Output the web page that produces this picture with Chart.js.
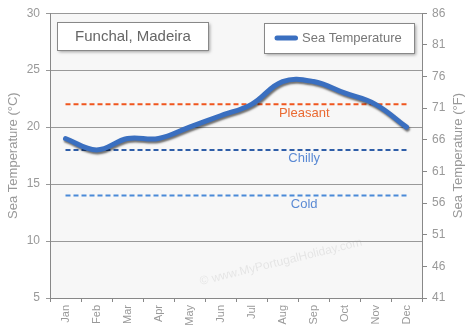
<!DOCTYPE html>
<html>
<head>
<meta charset="utf-8">
<script src="https://cdn.jsdelivr.net/npm/chart.js@4/dist/chart.umd.min.js"></script>
<style>
html,body{margin:0;padding:0;background:#fff;}
#wrap{width:474px;height:328px;position:relative;}
</style>
</head>
<body>
<div id="wrap"><canvas id="c" width="474" height="328"></canvas></div>
<script>
const months = ["Jan","Feb","Mar","Apr","May","Jun","Jul","Aug","Sep","Oct","Nov","Dec"];
const seaTemp = [19,18,19,19,20,21,22,24,24,23,22,20];
const thresholds = [
  {name:"Pleasant", value:22, line:"#f0561e", text:"#ea6a32"},
  {name:"Chilly",   value:18, line:"#2f5ea8", text:"#5b8ad4"},
  {name:"Cold",     value:14, line:"#4a8ad8", text:"#5b8ad4"}
];
const celsiusTicks = [5,10,15,20,25,30];
const fahrenheitTicks = [41,46,51,56,61,66,71,76,81,86];
const chartTitle = "Funchal, Madeira";
const seriesName = "Sea Temperature";
const leftTitle = "Sea Temperature (°C)";
const rightTitle = "Sea Temperature (°F)";
const watermark = "© www.MyPortugalHoliday.com";

const FONT = "'Liberation Sans', Arial, sans-serif";
const MAIN_COLOR = "#3a6fc0";

const datasets = [{
  label: seriesName,
  data: seaTemp,
  borderColor: MAIN_COLOR,
  borderWidth: 5,
  tension: 0.4,
  pointRadius: 0,
  borderCapStyle: 'round',
  borderJoinStyle: 'round',
  yAxisID: 'y',
  isMain: true
}];
thresholds.forEach(t => {
  datasets.push({
    label: t.name,
    data: months.map(() => t.value),
    borderColor: t.line,
    borderWidth: 2,
    borderDash: [5,3],
    pointRadius: 0,
    tension: 0,
    yAxisID: 'y'
  });
});

function box(ctx, x, y, w, h) {
  ctx.save();
  ctx.shadowColor = 'rgba(0,0,0,0.35)';
  ctx.shadowOffsetX = 2;
  ctx.shadowOffsetY = 2;
  ctx.shadowBlur = 3;
  ctx.fillStyle = '#fff';
  ctx.fillRect(x, y, w, h);
  ctx.restore();
  ctx.save();
  ctx.strokeStyle = '#888';
  ctx.lineWidth = 1;
  ctx.strokeRect(x + 0.5, y + 0.5, w, h);
  ctx.restore();
}

const deco = {
  id: 'deco',
  beforeDraw(chart) {
    const {ctx, chartArea: a} = chart;
    ctx.save();
    ctx.fillStyle = '#f7f7f7';
    ctx.fillRect(a.left, a.top, a.right - a.left, a.bottom - a.top);
    // watermark
    ctx.translate(281, 262);
    ctx.rotate(-0.24);
    ctx.font = "12px " + FONT;
    ctx.fillStyle = 'rgba(0,0,0,0.08)';
    ctx.textAlign = 'center';
    ctx.textBaseline = 'middle';
    ctx.fillText(watermark, 0, 0);
    ctx.restore();
  },
  beforeDatasetDraw(chart, args) {
    const ds = chart.data.datasets[args.index];
    if (ds.isMain) {
      const ctx = chart.ctx;
      ctx.save();
      ctx.shadowColor = 'rgba(0,0,0,0.55)';
      ctx.shadowOffsetX = 1;
      ctx.shadowOffsetY = 2;
      ctx.shadowBlur = 2;
    }
  },
  afterDatasetDraw(chart, args) {
    const ds = chart.data.datasets[args.index];
    if (ds.isMain) chart.ctx.restore();
  },
  afterDraw(chart) {
    const {ctx} = chart;
    const xs = chart.scales.x, ys = chart.scales.y;
    ctx.save();
    // threshold labels
    ctx.font = "13px " + FONT;
    ctx.textAlign = 'center';
    ctx.textBaseline = 'middle';
    thresholds.forEach(t => {
      ctx.fillStyle = t.text;
      ctx.fillText(t.name, xs.getPixelForValue(7.7), ys.getPixelForValue(t.value) + 9);
    });
    // title box
    box(ctx, 57, 22, 151, 28);
    ctx.font = "15px " + FONT;
    ctx.fillStyle = '#666';
    ctx.fillText(chartTitle, 133, 36.5);
    // legend box
    box(ctx, 264, 23, 150, 30);
    ctx.strokeStyle = MAIN_COLOR;
    ctx.lineWidth = 5;
    ctx.lineCap = 'round';
    ctx.beginPath();
    ctx.moveTo(277, 38);
    ctx.lineTo(295.5, 38);
    ctx.stroke();
    ctx.font = "13px " + FONT;
    ctx.fillStyle = '#777';
    ctx.textAlign = 'left';
    ctx.fillText(seriesName, 302, 38.5);
    // right axis title (reads bottom to top)
    ctx.translate(458, (chart.chartArea.top + chart.chartArea.bottom) / 2);
    ctx.rotate(-Math.PI / 2);
    ctx.textAlign = 'center';
    ctx.fillStyle = '#999';
    ctx.font = "13px " + FONT;
    ctx.fillText(rightTitle, 0, 0);
    ctx.restore();
  }
};

new Chart(document.getElementById('c'), {
  type: 'line',
  data: { labels: months, datasets },
  options: {
    responsive: false,
    animation: false,
    events: [],
    layout: { padding: { top: 11, left: 0, right: 0, bottom: 0 } },
    plugins: { legend: { display: false }, tooltip: { enabled: false } },
    scales: {
      x: {
        offset: true,
        grid: { display: true, offset: true, drawOnChartArea: false, drawTicks: true, tickLength: 4, color: '#888' },
        border: { color: '#888' },
        ticks: { minRotation: 90, maxRotation: 90, padding: 3, color: '#999', font: { family: FONT, size: 11 } },
        afterFit(s) { s.height = 30; }
      },
      y: {
        position: 'left',
        min: 5, max: 30,
        afterBuildTicks(s) { s.ticks = celsiusTicks.map(v => ({value: v})); },
        grid: { color: '#999', lineWidth: 1, tickLength: 4 },
        border: { color: '#888' },
        ticks: { padding: 6, color: '#999', font: { family: FONT, size: 12 } },
        title: { display: true, text: leftTitle, color: '#999', font: { family: FONT, size: 13 }, padding: { top: 6, bottom: 0 } },
        afterFit(s) { s.width = 50; }
      },
      y2: {
        position: 'right',
        min: 41, max: 86,
        afterBuildTicks(s) { s.ticks = fahrenheitTicks.map(v => ({value: v})); },
        grid: { drawOnChartArea: false, tickLength: 5, color: '#888' },
        border: { color: '#888' },
        ticks: { padding: 5, color: '#999', font: { family: FONT, size: 12 } },
        afterFit(s) { s.width = 52; }
      }
    }
  },
  plugins: [deco]
});
</script>
</body>
</html>
